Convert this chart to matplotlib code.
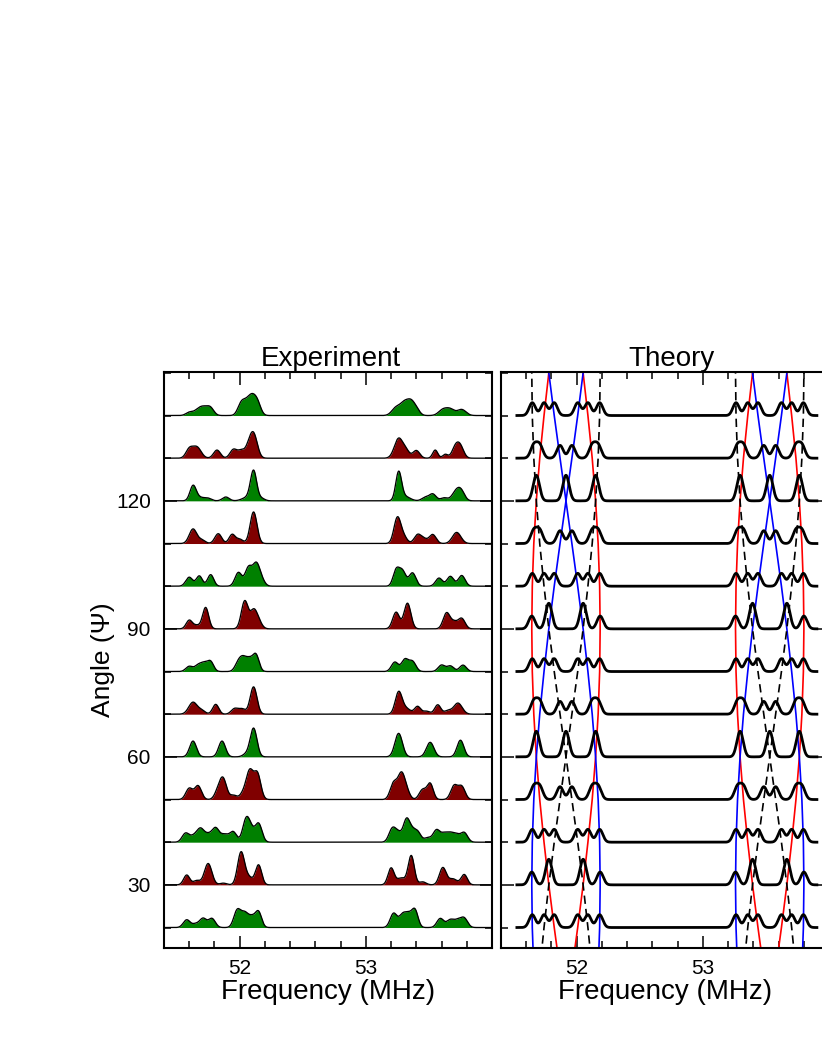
import numpy as np
import matplotlib
matplotlib.use('Agg')
import matplotlib.pyplot as plt
from matplotlib.ticker import MultipleLocator, FixedLocator

plt.rcParams['font.family'] = ['Liberation Sans', 'DejaVu Sans']

# ---------------- data ----------------
trace_angles = [140, 130, 120, 110, 100, 90, 80, 70, 60, 50, 40, 30, 20]
trace_kinds = ['g', 'r', 'g', 'r', 'g', 'r', 'g', 'r', 'g', 'r', 'g', 'r', 'g']

# experimental spectra: (peak centre MHz, height in 'angle' units, width MHz)
exp_140 = [(51.60, 0.7, 0.02), (51.67, 1.2, 0.025), (51.72, 1.6, 0.025), (51.77, 1.5, 0.02),
           (52.01, 2.3, 0.02), (52.06, 3.0, 0.025), (52.10, 2.7, 0.02), (52.14, 2.9, 0.02),
           (53.24, 1.8, 0.025), (53.31, 3.0, 0.025), (53.36, 2.3, 0.02), (53.40, 1.4, 0.02),
           (53.61, 1.3, 0.025), (53.67, 1.4, 0.025), (53.76, 1.4, 0.025)]
exp_130 = [(51.60, 2.0, 0.02), (51.66, 2.6, 0.025), (51.82, 1.9, 0.02), (51.95, 2.0, 0.02),
           (52.01, 1.6, 0.02), (52.09, 4.5, 0.025), (52.12, 2.5, 0.02),
           (53.26, 4.6, 0.025), (53.32, 1.5, 0.02), (53.40, 1.8, 0.02), (53.55, 1.9, 0.015),
           (53.63, 0.9, 0.015), (53.71, 2.5, 0.02), (53.75, 2.5, 0.02)]
exp_120 = [(51.63, 3.3, 0.018), (51.68, 0.8, 0.03), (51.75, 0.5, 0.02), (51.89, 0.9, 0.02),
           (52.06, 0.8, 0.03), (52.11, 6.8, 0.018), (52.17, 0.6, 0.02),
           (53.26, 6.5, 0.017), (53.31, 1.0, 0.03), (53.47, 0.8, 0.02), (53.53, 1.6, 0.02),
           (53.62, 0.7, 0.02), (53.72, 2.4, 0.025), (53.76, 1.5, 0.02)]
exp_110 = [(51.63, 3.4, 0.022), (51.70, 0.8, 0.02), (51.83, 2.3, 0.02), (51.94, 2.1, 0.018),
           (52.00, 1.0, 0.02), (52.11, 7.4, 0.02),
           (53.25, 6.0, 0.02), (53.30, 1.5, 0.02), (53.41, 2.0, 0.02), (53.46, 1.0, 0.02),
           (53.53, 2.1, 0.02), (53.72, 2.6, 0.025)]
exp_100 = [(51.60, 2.1, 0.02), (51.68, 2.4, 0.018), (51.77, 2.7, 0.018), (51.99, 3.2, 0.02),
           (52.07, 4.3, 0.02), (52.13, 4.8, 0.02), (52.17, 1.5, 0.02),
           (53.24, 3.6, 0.018), (53.29, 3.5, 0.02), (53.37, 3.1, 0.02), (53.58, 1.9, 0.02),
           (53.67, 2.3, 0.02), (53.76, 2.5, 0.02)]
exp_90 = [(51.60, 2.0, 0.018), (51.66, 0.8, 0.02), (51.73, 5.0, 0.018), (52.04, 6.5, 0.02),
          (52.11, 4.0, 0.02), (52.15, 1.5, 0.02),
          (53.24, 3.9, 0.02), (53.33, 6.0, 0.02), (53.64, 3.7, 0.02), (53.70, 1.5, 0.02),
          (53.76, 2.4, 0.02)]
exp_80 = [(51.60, 1.2, 0.02), (51.67, 1.4, 0.02), (51.72, 1.8, 0.02), (51.77, 2.2, 0.018),
          (51.99, 2.0, 0.02), (52.03, 2.6, 0.02), (52.08, 2.6, 0.02), (52.13, 3.7, 0.018),
          (53.23, 2.2, 0.02), (53.31, 2.8, 0.02), (53.37, 2.3, 0.02), (53.60, 1.5, 0.02),
          (53.67, 1.3, 0.02), (53.77, 1.5, 0.02)]
exp_70 = [(51.63, 2.8, 0.025), (51.70, 0.8, 0.02), (51.81, 2.3, 0.018), (51.96, 1.3, 0.02),
          (52.02, 1.2, 0.02), (52.11, 6.4, 0.02),
          (53.26, 5.1, 0.02), (53.32, 1.3, 0.025), (53.41, 1.8, 0.018), (53.48, 0.7, 0.02),
          (53.57, 2.2, 0.018), (53.65, 0.8, 0.02), (53.73, 2.6, 0.025)]
exp_60 = [(51.63, 3.7, 0.02), (51.86, 3.7, 0.02), (52.05, 0.6, 0.02), (52.11, 6.7, 0.02),
          (53.26, 5.5, 0.022), (53.51, 3.4, 0.022), (53.75, 3.9, 0.02)]
exp_50 = [(51.60, 2.6, 0.02), (51.67, 3.2, 0.02), (51.83, 2.0, 0.02), (51.87, 4.5, 0.02),
          (51.95, 1.0, 0.02), (52.03, 1.5, 0.02), (52.08, 6.4, 0.02), (52.14, 6.0, 0.02),
          (53.22, 3.8, 0.02), (53.28, 5.5, 0.02), (53.32, 2.0, 0.02), (53.45, 2.3, 0.02),
          (53.51, 3.7, 0.018), (53.70, 3.2, 0.02), (53.76, 3.0, 0.02)]
exp_40 = [(51.57, 2.0, 0.02), (51.64, 1.5, 0.025), (51.69, 2.5, 0.02), (51.75, 1.8, 0.025),
          (51.81, 2.9, 0.02), (51.88, 1.8, 0.025), (51.95, 2.3, 0.02), (52.05, 5.0, 0.02),
          (52.09, 2.5, 0.02), (52.15, 4.3, 0.02),
          (53.21, 3.1, 0.02), (53.26, 2.0, 0.02), (53.32, 4.6, 0.018), (53.36, 2.5, 0.02),
          (53.41, 2.3, 0.02), (53.49, 1.0, 0.02), (53.56, 2.8, 0.02), (53.62, 1.8, 0.02),
          (53.67, 1.8, 0.02), (53.72, 1.6, 0.02), (53.78, 2.2, 0.02)]
exp_30 = [(51.58, 2.3, 0.018), (51.66, 1.0, 0.02), (51.75, 5.0, 0.022), (51.87, 0.4, 0.02),
          (52.01, 7.4, 0.02), (52.07, 1.8, 0.025), (52.15, 4.6, 0.018),
          (53.20, 3.9, 0.018), (53.28, 1.6, 0.025), (53.36, 6.8, 0.018), (53.45, 0.7, 0.02),
          (53.61, 4.0, 0.02), (53.69, 1.4, 0.025), (53.78, 2.4, 0.018)]
exp_20 = [(51.58, 1.8, 0.02), (51.65, 0.8, 0.02), (51.71, 2.1, 0.02), (51.78, 2.1, 0.02),
          (51.98, 3.9, 0.02), (52.04, 3.3, 0.022), (52.10, 2.2, 0.02), (52.15, 3.5, 0.018),
          (53.22, 3.3, 0.02), (53.29, 2.8, 0.02), (53.34, 2.8, 0.02), (53.39, 3.9, 0.018),
          (53.59, 2.1, 0.02), (53.67, 1.8, 0.022), (53.73, 1.5, 0.02), (53.78, 2.1, 0.02)]
exp_spectra = [exp_140, exp_130, exp_120, exp_110, exp_100, exp_90, exp_80,
               exp_70, exp_60, exp_50, exp_40, exp_30, exp_20]
exp_width_scale = 1.35

# theory: line positions (offset from cluster centre, MHz) vs angle
line_angles = [10, 20, 30, 40, 50, 60, 70, 80, 90, 100, 110, 120, 130, 140, 150, 160]
red_offset = [0.047, 0.093, 0.136, 0.174, 0.208, 0.235, 0.255, 0.267, 0.271,
              0.267, 0.255, 0.235, 0.208, 0.174, 0.136, 0.093]
blue_offset = [0.255, 0.267, 0.271, 0.267, 0.255, 0.235, 0.208, 0.174, 0.136,
               0.093, 0.047, 0.0, -0.047, -0.093, -0.136, -0.174]
dashed_offset = [-0.208, -0.174, -0.136, -0.093, -0.047, 0.0, 0.047, 0.093, 0.136,
                 0.174, 0.208, 0.235, 0.255, 0.267, 0.271, 0.267]
cluster_centers = [51.915, 53.53]
theory_peak_height = 3.0
theory_peak_width = 0.025

xlim = (51.4, 54.0)
ylim = (15.2, 150.2)

GREEN = '#008000'
RED = '#800000'


def spectrum(x, peaks, wscale=1.0):
    y = np.zeros_like(x)
    for c, h, w in peaks:
        y += h * np.exp(-0.5 * ((x - c) / (w * wscale)) ** 2)
    return y


fig = plt.figure(figsize=(8.22, 10.64), dpi=100)
W, H = 822.0, 1064.0
ax1 = fig.add_axes([164 / W, 1 - 948 / H, 328 / W, 576 / H])
ax2 = fig.add_axes([501 / W, 1 - 948 / H, 328 / W, 576 / H])

# ---- experiment ----
xe = np.linspace(xlim[0], xlim[1], 2000)
for ang, kind, peaks in zip(trace_angles, trace_kinds, exp_spectra):
    y = spectrum(xe, peaks, exp_width_scale)
    col = GREEN if kind == 'g' else RED
    ax1.fill_between(xe, ang, ang + y, color=col, lw=0, zorder=2)
    ax1.plot(xe, ang + y, color='black', lw=0.95, zorder=3)

# ---- theory ----
la = np.array(line_angles)
for cen in cluster_centers:
    for offs, style in ((red_offset, dict(color='red', lw=1.2, ls='-')),
                        (blue_offset, dict(color='blue', lw=1.2, ls='-')),
                        (dashed_offset, dict(color='black', lw=1.2, ls=(0, (5, 3))))):
        o = np.array(offs)
        ax2.plot(cen - o, la, zorder=2, **style)
        ax2.plot(cen + o, la, zorder=2, **style)

xt = np.linspace(51.515, 53.915, 2000)
for ang in trace_angles:
    i = line_angles.index(ang)
    peaks = []
    for cen in cluster_centers:
        for offs in (red_offset, blue_offset, dashed_offset):
            peaks.append((cen - offs[i], theory_peak_height, theory_peak_width))
            peaks.append((cen + offs[i], theory_peak_height, theory_peak_width))
    ax2.plot(xt, ang + spectrum(xt, peaks), color='black', lw=2.0, zorder=4,
             solid_capstyle='butt')

# ---- axes styling ----
for ax in (ax1, ax2):
    ax.set_xlim(*xlim)
    ax.set_ylim(*ylim)
    ax.xaxis.set_major_locator(FixedLocator([52, 53]))
    ax.xaxis.set_minor_locator(MultipleLocator(0.2))
    ax.yaxis.set_major_locator(FixedLocator([30, 60, 90, 120]))
    ax.yaxis.set_minor_locator(MultipleLocator(10))
    ax.tick_params(which='both', direction='in', top=True, right=True, width=1.1,
                   labelsize=15, color='black')
    ax.tick_params(which='major', length=9)
    ax.tick_params(which='minor', length=5)
    ax.tick_params(axis='x', pad=8)
    ax.tick_params(axis='y', pad=9.5)
    for s in ax.spines.values():
        s.set_linewidth(1.5)
    ax.set_xlabel('Frequency (MHz)', fontsize=20, labelpad=0.5)

ax1.set_title('Experiment', fontsize=20, pad=1.5, x=0.509)
ax2.set_title('Theory', fontsize=20, pad=1.5, x=0.52)
ax1.set_ylabel('Angle (\u03a8)', fontsize=19, labelpad=1)
ax2.tick_params(axis='y', labelleft=False)

fig.savefig('out.png', dpi=100)
